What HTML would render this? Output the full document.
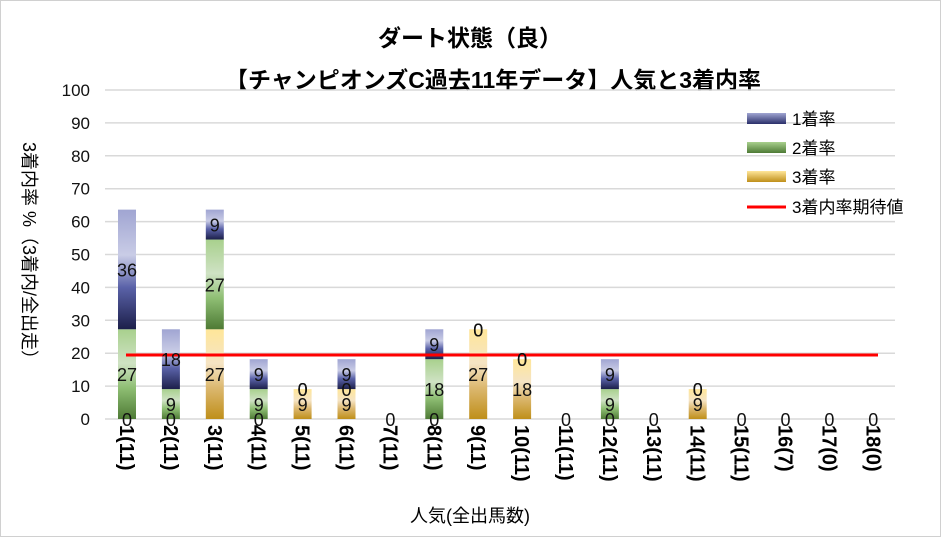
<!DOCTYPE html>
<html><head><meta charset="utf-8"><style>
body{margin:0;background:#fff}
svg{display:block;font-family:"Liberation Sans","Noto Sans CJK JP",sans-serif}
</style></head><body>
<svg id="s" width="941" height="537" viewBox="0 0 941 537" xmlns="http://www.w3.org/2000/svg">
<defs>
<linearGradient id="gb" x1="0" y1="1" x2="0" y2="0"><stop offset="0" stop-color="#1c1f4a"/><stop offset="0.35" stop-color="#5a62a8"/><stop offset="0.62" stop-color="#c9cce6"/><stop offset="1" stop-color="#a0a5d2"/></linearGradient>
<linearGradient id="gg" x1="0" y1="1" x2="0" y2="0"><stop offset="0" stop-color="#4e7a35"/><stop offset="0.35" stop-color="#8fbf74"/><stop offset="0.62" stop-color="#cfe2c4"/><stop offset="1" stop-color="#a8d08d"/></linearGradient>
<linearGradient id="gy" x1="0" y1="1" x2="0" y2="0"><stop offset="0" stop-color="#bf8f1a"/><stop offset="0.35" stop-color="#dcb870"/><stop offset="0.62" stop-color="#f5e4c4"/><stop offset="1" stop-color="#ffe699"/></linearGradient>
<linearGradient id="lb" x1="0" y1="0" x2="0" y2="1"><stop offset="0" stop-color="#a0a5d2"/><stop offset="1" stop-color="#2a2f6a"/></linearGradient>
<linearGradient id="lg" x1="0" y1="0" x2="0" y2="1"><stop offset="0" stop-color="#a8d08d"/><stop offset="1" stop-color="#4e7a35"/></linearGradient>
<linearGradient id="ly" x1="0" y1="0" x2="0" y2="1"><stop offset="0" stop-color="#ffe699"/><stop offset="1" stop-color="#bf8f1a"/></linearGradient>
</defs>
<rect x="0.5" y="0.5" width="940" height="536" fill="#fff" stroke="#d0d0d0"/>
<text x="470" y="46" font-size="23" font-weight="bold" text-anchor="middle">ダート状態（良）</text>
<text x="493" y="88" font-size="23" font-weight="bold" text-anchor="middle">【チャンピオンズC過去11年データ】人気と3着内率</text>
<g id="grid"></g>
<g id="bars"></g>
<line x1="126" y1="355" x2="878" y2="355" stroke="#f00" stroke-width="3"/>
<g id="lbl" font-size="18" text-anchor="middle" fill="#111"></g>
<g id="xl" font-size="20" font-weight="bold"></g>
<text transform="translate(23,255) rotate(90)" font-size="18" text-anchor="middle">3着内率 %（3着内/全出走）</text>
<text x="470" y="522" font-size="18" text-anchor="middle">人気(全出馬数)</text>
<g font-size="17">
<rect x="747" y="113" width="39" height="11" fill="url(#lb)"/><text x="792" y="125">1着率</text>
<rect x="747" y="142" width="39" height="11" fill="url(#lg)"/><text x="792" y="154">2着率</text>
<rect x="747" y="171" width="39" height="11" fill="url(#ly)"/><text x="792" y="183">3着率</text>
<line x1="747" y1="207" x2="786" y2="207" stroke="#f00" stroke-width="3"/><text x="792" y="213">3着内率期待値</text>
</g>
</svg>
<script>
(function(){
var NS="http://www.w3.org/2000/svg";
function el(p,t,a,txt){var e=document.createElementNS(NS,t);for(var q in a)e.setAttribute(q,a[q]);if(txt!=null)e.textContent=txt;document.getElementById(p).appendChild(e);}
var y0=419,k=3.29;
for(var v=0;v<=100;v+=10){var yy=y0-v*k;el("grid","line",{x1:105,x2:895,y1:yy,y2:yy,stroke:"#d9d9d9","stroke-width":1.5});el("grid","text",{x:90,y:yy+6,"font-size":17,"text-anchor":"end",fill:"#111"},v);}
var d=[[0,27,36],[0,9,18],[27,27,9],[0,9,9],[9,0,0],[9,0,9],[0,0,0],[0,18,9],[27,0,0],[18,0,0],[0,0,0],[0,9,9],[0,0,0],[9,0,0],[0,0,0],[0,0,0],[0,0,0],[0,0,0]];
var n=["11","11","11","11","11","11","11","11","11","11","11","11","11","11","11","7","0","0"];
var g=["gy","gg","gb"];
for(var i=0;i<18;i++){var cx=127+i*43.9,base=0;
 var full=d[i].every(function(x){return x==0});
 for(var j=0;j<3;j++){var val=d[i][j]*1.0101,h=val*k,tp=y0-(base+val)*k;
  if(h>0)el("bars","rect",{x:cx-9,y:tp,width:18,height:h,fill:"url(#"+g[j]+")"});
  var cy=tp+h/2;
  if(!(full&&j>0))el("lbl","text",{x:cx,y:cy+7},d[i][j]);
  base+=val;}
 el("xl","text",{transform:"translate("+(cx-7)+",425) rotate(90)"},(i+1)+"("+n[i]+")");
}
})();
</script>
</body></html>
